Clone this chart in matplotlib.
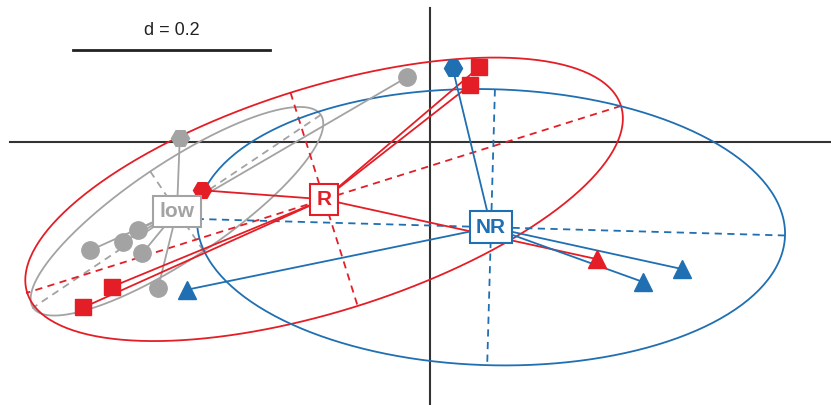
# -*- coding: utf-8 -*-
# class scatter: points linked to group centres, 1.5-sd inertia ellipses
import numpy as np
import matplotlib
matplotlib.use("Agg")
import matplotlib.pyplot as plt

plt.rcParams['font.family'] = ['Liberation Sans', 'DejaVu Sans']

# scores of each group (x, y) and marker per point
low_x = [-0.023, -0.254, -0.345, -0.312, -0.296, -0.292, -0.276]
low_y = [0.066, 0.004, -0.110, -0.102, -0.089, -0.113, -0.148]
low_mk = ['o', 'H', 'o', 'o', 'o', 'o', 'o']

r_x = [0.050, 0.041, -0.231, -0.323, -0.352, 0.170]
r_y = [0.076, 0.058, -0.049, -0.147, -0.168, -0.119]
r_mk = ['s', 's', 'H', 's', 's', '^']

nr_x = [0.023, -0.247, 0.216, 0.256]
nr_y = [0.075, -0.150, -0.142, -0.129]
nr_mk = ['H', '^', '^', '^']

groups = [
    ("low", low_x, low_y, low_mk, "#A3A3A3"),
    ("R", r_x, r_y, r_mk, "#E41E26"),
    ("NR", nr_x, nr_y, nr_mk, "#1F6FB2"),
]

cellipse = 1.5
grid_d = 0.2

fig = plt.figure(figsize=(8.31, 4.05), dpi=100)
ax = fig.add_axes([0, 0, 1, 1])
ax.set_xlim(-0.4365, 0.4071)
ax.set_ylim(-0.2670, 0.1442)
ax.axis('off')

# axes through origin
ax.plot([-0.426, 0.4071], [0, 0], color="#333333", lw=1.5, zorder=1)
ax.plot([0, 0], [-0.2670, 0.136], color="#333333", lw=1.5, zorder=1)

# scale bar
ax.plot([-0.3624, -0.3624 + grid_d], [0.0934, 0.0934], color="#222222", lw=2, zorder=1)
ax.text(-0.3624 + grid_d / 2, 0.1137, "d = 0.2", ha="center", va="center",
        fontsize=13, color="#222222")

t = np.linspace(0, 2 * np.pi, 300)
for name, gx, gy, mk, col in groups:
    gx = np.array(gx)
    gy = np.array(gy)
    cx, cy = gx.mean(), gy.mean()
    cov = np.cov(np.vstack([gx, gy]), bias=True)
    vals, vecs = np.linalg.eigh(cov)
    a = cellipse * np.sqrt(vals[1])
    b = cellipse * np.sqrt(vals[0])
    v1 = vecs[:, 1]
    v2 = vecs[:, 0]
    ex = cx + a * np.cos(t) * v1[0] + b * np.sin(t) * v2[0]
    ey = cy + a * np.cos(t) * v1[1] + b * np.sin(t) * v2[1]
    ax.plot(ex, ey, color=col, lw=1.3, zorder=2)
    for v, s in ((v1, a), (v2, b)):
        ax.plot([cx - s * v[0], cx + s * v[0]], [cy - s * v[1], cy + s * v[1]],
                color=col, lw=1.3, ls=(0, (4, 3)), zorder=2)
    # star lines to the centre
    for px, py in zip(gx, gy):
        ax.plot([cx, px], [cy, py], color=col, lw=1.3, zorder=3)

for name, gx, gy, mk, col in groups:
    for px, py, m in zip(gx, gy, mk):
        size = {'o': 12.5, 's': 12, 'H': 13, '^': 13.5}[m]
        ax.plot(px, py, marker=m, ms=size, color=col, mec=col, ls='none', zorder=4)

for name, gx, gy, mk, col in groups:
    ax.text(np.mean(gx), np.mean(gy), name, ha="center", va="center",
            fontsize=15, fontweight="bold", color=col, zorder=5,
            bbox=dict(boxstyle="square,pad=0.3", fc="white", ec=col, lw=1.5))

fig.savefig("out.png", dpi=100)
